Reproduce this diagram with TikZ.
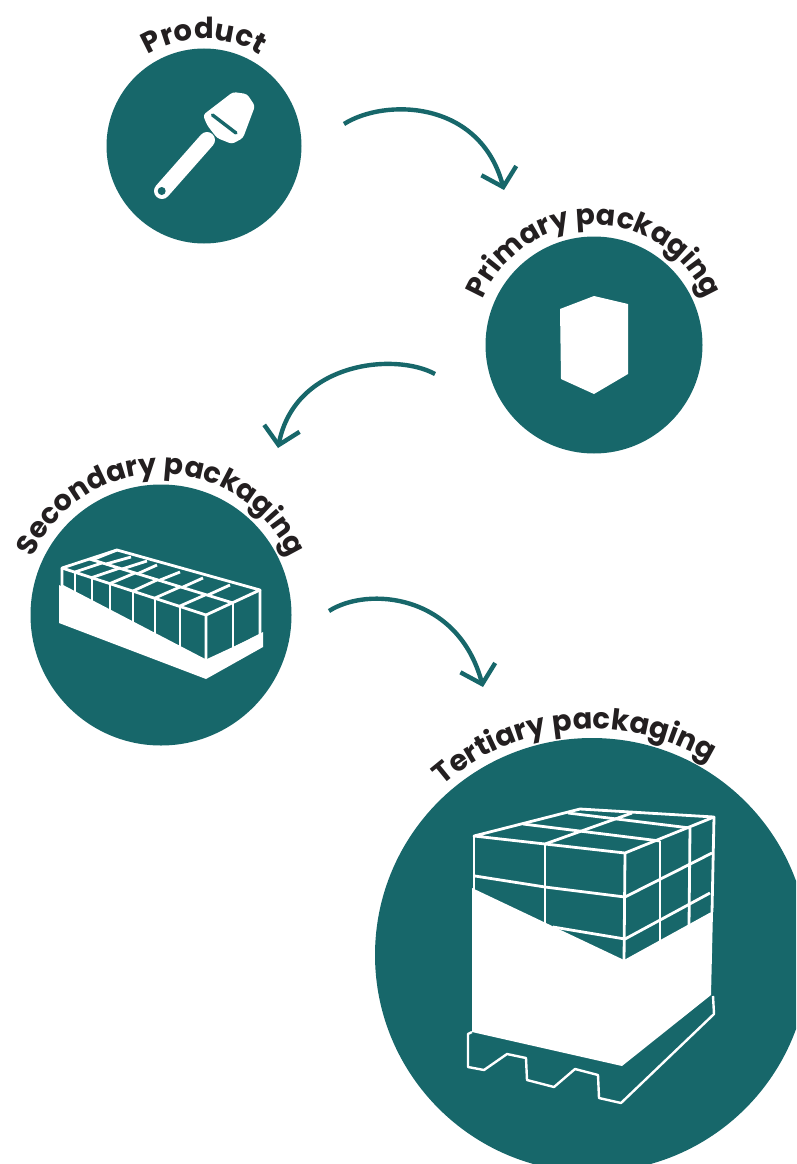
\documentclass[tikz,border=0pt]{standalone}
\usepackage{fontspec}
\setmainfont{Poppins}
\usetikzlibrary{decorations.text, arrows.meta}
\definecolor{tealdisc}{HTML}{17676A}
\definecolor{labelink}{HTML}{231F20}
\tikzset{
    disc/.style={circle, fill=tealdisc, inner sep=0pt, minimum size=#1},
    flow/.style={draw=tealdisc, line width=4.4pt, -{Straight Barb[length=17pt, width=36pt, line width=4.4pt]}},
    gridline/.style={draw=white, line width=2.8pt, line join=round},
    thingrid/.style={draw=white, line width=2.4pt, line join=round},
}
\newcommand{\bendlabel}[6]{% centre, radius, from, to, size, text
    \path[decorate, decoration={text along path, text align=center,
        text={|\fontsize{#5}{#5}\selectfont\bfseries\color{labelink}|#6}}]
        ([shift={(#1)}]#3:#2) arc (#3:#4:#2);}
\begin{document}
\begin{tikzpicture}[x=1pt, y=1pt]
    \useasboundingbox (0,0) rectangle (796,-1164);
    \clip (0,0) rectangle (796,-1164);

    \node[disc=195pt] (product) at (204,-146) {};
    \node[disc=217pt] (primary) at (594,-345) {};
    \node[disc=261pt] (secondary) at (161,-615) {};
    \node[disc=434pt] (tertiary) at (592,-955) {};

    \bendlabel{204,-146}{107}{130}{50}{29pt}{Product}
    \bendlabel{594,-345}{120}{175}{5}{28.5pt}{Primary packaging}
    \bendlabel{161,-615}{141}{175}{5}{28.5pt}{Secondary packaging}
    \bendlabel{592,-955}{226}{142}{48}{29pt}{Tertiary packaging}

    \coordinate (flowa1) at (344,-124);
    \coordinate (flowa2) at (504,-190);
    \coordinate (flowb1) at (435,-374);
    \coordinate (flowb2) at (278,-448);
    \coordinate (flowc1) at (329,-611);
    \coordinate (flowc2) at (483,-687);
    \draw[flow] (flowa1) .. controls (385,-98) and (480,-100) .. (flowa2);
    \draw[flow] (flowb1) .. controls (395,-352) and (295,-362) .. (flowb2);
    \draw[flow] (flowc1) .. controls (368,-586) and (458,-594) .. (flowc2);

    % product icon
    \draw[white, line width=16pt, line cap=round] (162,-191) -- (207,-140);
    \fill[white, rounded corners=3pt] (203,-115) -- (233,-92) -- (247,-94) -- (255,-106)
        -- (243,-138) -- (232,-144) -- (217,-138) -- (207,-125) -- cycle;
    \draw[tealdisc, line width=3.4pt, line cap=round] (212.5,-115) -- (236,-133);
    \fill[tealdisc] (161.7,-191) circle (4pt);

    % primary icon
    \fill[white] (560,-309) -- (594,-296) -- (628,-304) -- (628,-374)
        -- (594,-394) -- (561,-379) -- cycle;

    % secondary icon
    \fill[white] (59,-585) -- (59,-623) -- (206,-679) -- (263,-647) -- (263,-632)
        -- (206,-661) -- cycle;
    \coordinate (boxa) at (62,-568);
    \coordinate (boxb) at (117,-550);
    \coordinate (boxc) at (260,-590);
    \coordinate (boxd) at (206,-615);
    \draw[gridline] (boxa) -- (boxb) -- (boxc) -- (boxd) -- cycle;
    \draw[gridline] (boxa) -- (62,-586) -- (206,-661) -- (boxd);
    \draw[gridline] (206,-661) -- (260,-636) -- (boxc);
    \draw[gridline] (233,-603) -- (233,-649);
    \draw[gridline] (89.5,-559) -- (233,-603);
    \foreach \x/\ytop/\ybot in {75/572/594, 92/577.5/603, 110/583.5/612, 133/591/624, 155/598/634, 180/606/648}
        \draw[gridline] (\x,-\ytop) -- (\x,-\ybot);
    % front row of the lid
    \foreach \x/\ytop/\xm/\ym in {75/572/102/563, 92/577.5/120/568, 110/583.5/135/573, 133/591/157/580, 155/598/180/587, 180/606/205/595}
        \draw[gridline] (\x,-\ytop) -- (\xm,-\ym);
    % back row of the lid
    \foreach \xa/\ya/\xb/\yb in {92/-560/117/-550, 106/-564/131/-557, 122/-569/147/-561, 137/-574/157/-565, 160/-580/180/-572, 183/-587/203/-578, 208/-595/230/-585}
        \draw[gridline] (\xa,\ya) -- (\xb,\yb);

    % tertiary icon
    \coordinate (loada) at (474,-836);
    \coordinate (loadb) at (580,-809);
    \coordinate (loadc) at (714,-817);
    \coordinate (loadd) at (625,-853);
    \draw[gridline] (loada) -- (loadb) -- (loadc) -- (loadd) -- cycle;
    \draw[gridline] (loada) -- (474,-892);
    \draw[gridline] (loadd) -- (624,-962);
    \draw[gridline] (loadc) -- (712,-912);
    \draw[gridline] (545,-844) -- (545,-927);
    \draw[gridline] (660,-841) -- (660,-942);
    \draw[gridline] (690,-828) -- (689,-926);
    \draw[gridline] (545,-844) -- (632,-813);
    \draw[gridline] (523,-824) -- (660,-841);
    \draw[gridline] (568,-813) -- (690,-828);
    \draw[gridline] (475,-876) -- (545,-887) -- (625,-897) -- (712,-853);
    \draw[gridline] (553,-927) -- (625,-939) -- (710,-893);
    \fill[white] (472,-888) -- (624,-960) -- (713,-911) -- (711,-995) -- (622,-1066)
        -- (472,-1032) -- cycle;
    \draw[thingrid] (472,-1032) -- (468,-1034) -- (468,-1067) -- (484,-1070) -- (507,-1054)
        -- (526,-1058) -- (527,-1080) -- (554,-1087) -- (575,-1069) -- (598,-1075)
        -- (599,-1098) -- (621,-1103) -- (714,-1014) -- (713,-996);
\end{tikzpicture}
\end{document}
